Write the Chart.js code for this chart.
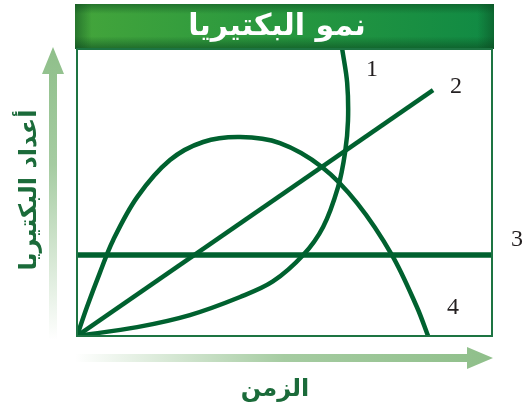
<!DOCTYPE html>
<html><head><meta charset="utf-8">
<script src="https://cdn.jsdelivr.net/npm/chart.js@4"></script>
<style>html,body{margin:0;padding:0;background:#fff;overflow:hidden}</style>
</head><body>
<canvas id="c" width="523" height="411"></canvas>
<script>
// ---- data ----
const titleText = 'نمو البكتيريا';
const xAxisLabel = 'الزمن';
const yAxisLabel = 'أعداد البكتيريا';
const seriesNames = ['1', '2', '3', '4'];

// curve 1: exponential growth (bends up past the top)
const curve1X = [0, 14.5, 27.2, 39.3, 47.2, 54.5, 59.3, 62.9, 64.6, 65.3, 65.1, 63.9];
const curve1Y = [0, 3.1, 7.3, 13.6, 19.0, 28.2, 38.0, 51.9, 64.0, 75.0, 88.2, 100];
// curve 2: straight line
const curve2X = [0, 85.8];
const curve2Y = [0, 85.7];
// curve 3: constant level
const curve3X = [0, 100];
const curve3Y = [28.2, 28.2];
// curve 4: rise then fall
const curve4X = [0, 2.4, 5.5, 8.7, 14.5, 22.4, 30.4, 39.3, 48.9, 59.0, 67.5, 75.9, 81.9, 84.6];
const curve4Y = [0, 10.1, 22.0, 33.4, 48.4, 61.3, 67.6, 69.3, 67.2, 58.9, 46.3, 28.2, 10.1, 0];

const toPts = (xs, ys) => xs.map((x, i) => ({x: x, y: ys[i]}));

const lineColor = '#00612f';
const frameColor = '#1d7442';
const labelPos = [[71.1, 92.7], [91.3, 86.8], [106.0, 33.4], [90.6, 9.8]];

const decor = {
  id: 'decor',
  beforeDraw(chart) {
    const ctx = chart.ctx, a = chart.chartArea;
    ctx.save();
    ctx.fillStyle = '#fff';
    ctx.fillRect(0, 0, chart.width, chart.height);

    // title bar
    const bx = a.left - 2, by = 4, bw = a.right + 2 - bx, bh = a.top - by;
    let g = ctx.createLinearGradient(bx, 0, bx + bw, 0);
    g.addColorStop(0, '#44a53b');
    g.addColorStop(0.5, '#27973f');
    g.addColorStop(1, '#108a44');
    ctx.fillStyle = g;
    ctx.fillRect(bx, by, bw, bh);
    g = ctx.createLinearGradient(0, by, 0, by + bh);
    g.addColorStop(0, 'rgba(10,70,30,0.5)');
    g.addColorStop(0.22, 'rgba(10,70,30,0)');
    g.addColorStop(0.72, 'rgba(10,70,30,0)');
    g.addColorStop(1, 'rgba(10,70,30,0.6)');
    ctx.fillStyle = g;
    ctx.fillRect(bx, by, bw, bh);
    g = ctx.createLinearGradient(bx, 0, bx + bw, 0);
    g.addColorStop(0, 'rgba(10,70,30,0.5)');
    g.addColorStop(0.04, 'rgba(10,70,30,0)');
    g.addColorStop(0.96, 'rgba(10,70,30,0)');
    g.addColorStop(1, 'rgba(10,70,30,0.5)');
    ctx.fillStyle = g;
    ctx.fillRect(bx, by, bw, bh);

    ctx.fillStyle = '#ffffff';
    ctx.font = 'bold 30px "DejaVu Sans", sans-serif';
    ctx.textAlign = 'center';
    ctx.textBaseline = 'middle';
    ctx.fillText(titleText, 277, by + bh / 2 + 1);

    // y arrow
    const ax = 53, aTop = a.top - 2, aBot = a.bottom + 4;
    g = ctx.createLinearGradient(0, aBot, 0, aTop);
    g.addColorStop(0, 'rgba(143,191,138,0)');
    g.addColorStop(0.6, 'rgba(143,191,138,0.8)');
    g.addColorStop(1, 'rgba(143,191,138,1)');
    ctx.fillStyle = g;
    ctx.beginPath();
    ctx.moveTo(ax - 4, aBot);
    ctx.lineTo(ax - 4, aTop + 27);
    ctx.lineTo(ax - 11, aTop + 27);
    ctx.lineTo(ax, aTop);
    ctx.lineTo(ax + 11, aTop + 27);
    ctx.lineTo(ax + 4, aTop + 27);
    ctx.lineTo(ax + 4, aBot);
    ctx.closePath();
    ctx.fill();

    // x arrow
    const ay = 358, aL = a.left - 2, aR = a.right + 1;
    g = ctx.createLinearGradient(aL, 0, aR, 0);
    g.addColorStop(0, 'rgba(143,191,138,0)');
    g.addColorStop(0.5, 'rgba(143,191,138,0.8)');
    g.addColorStop(1, 'rgba(143,191,138,1)');
    ctx.fillStyle = g;
    ctx.beginPath();
    ctx.moveTo(aL, ay - 4);
    ctx.lineTo(aR - 26, ay - 4);
    ctx.lineTo(aR - 26, ay - 11);
    ctx.lineTo(aR, ay);
    ctx.lineTo(aR - 26, ay + 11);
    ctx.lineTo(aR - 26, ay + 4);
    ctx.lineTo(aL, ay + 4);
    ctx.closePath();
    ctx.fill();

    // axis labels
    ctx.fillStyle = '#1b6b3a';
    ctx.font = 'bold 24px "DejaVu Sans", sans-serif';
    ctx.textAlign = 'center';
    ctx.textBaseline = 'middle';
    ctx.fillText(xAxisLabel, 275, 390);
    ctx.translate(30, 190);
    ctx.rotate(-Math.PI / 2);
    ctx.fillText(yAxisLabel, 0, 0);
    ctx.restore();
  },
  afterDraw(chart) {
    const ctx = chart.ctx, a = chart.chartArea;
    const xs = chart.scales.x, ys = chart.scales.y;
    ctx.save();
    ctx.strokeStyle = frameColor;
    ctx.lineWidth = 2;
    ctx.strokeRect(a.left, a.top, a.right - a.left, a.bottom - a.top);
    ctx.fillStyle = '#231f20';
    ctx.font = '24px "Liberation Serif", serif';
    ctx.textAlign = 'center';
    ctx.textBaseline = 'middle';
    seriesNames.forEach((n, i) => {
      ctx.fillText(n, xs.getPixelForValue(labelPos[i][0]), ys.getPixelForValue(labelPos[i][1]));
    });
    ctx.restore();
  }
};

const mk = (xs, ys, name, w, t) => ({
  label: name, data: toPts(xs, ys), showLine: true, borderColor: lineColor,
  backgroundColor: lineColor, borderWidth: w, pointRadius: 0, tension: t, fill: false
});

new Chart(document.getElementById('c'), {
  type: 'scatter',
  data: {
    datasets: [
      mk(curve1X, curve1Y, seriesNames[0], 4.5, 0.35),
      mk(curve2X, curve2Y, seriesNames[1], 4.5, 0),
      mk(curve3X, curve3Y, seriesNames[2], 5.5, 0),
      mk(curve4X, curve4Y, seriesNames[3], 4.5, 0.35)
    ]
  },
  options: {
    responsive: false,
    animation: false,
    layout: {padding: {left: 77, right: 31, top: 49, bottom: 75}},
    plugins: {legend: {display: false}, title: {display: false}, tooltip: {enabled: false}},
    scales: {
      x: {type: 'linear', min: 0, max: 100, display: false},
      y: {type: 'linear', min: 0, max: 100, display: false}
    }
  },
  plugins: [decor]
});
</script>
</body></html>
